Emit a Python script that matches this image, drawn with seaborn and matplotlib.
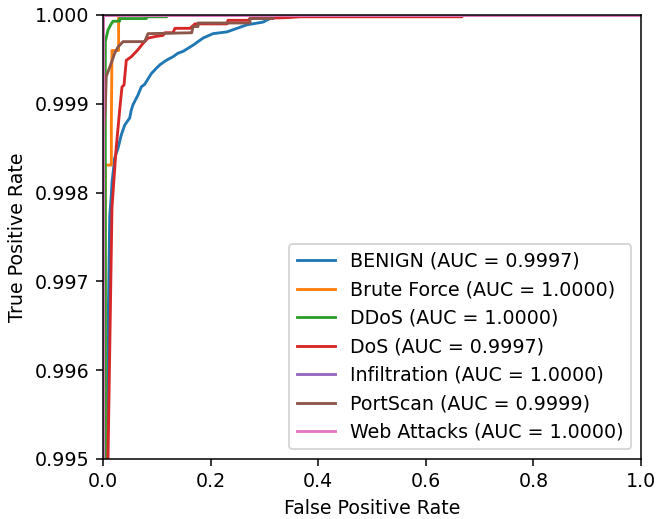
import numpy as np
import pandas as pd
import matplotlib
matplotlib.use("Agg")
import matplotlib.pyplot as plt
from matplotlib.ticker import FormatStrFormatter
import seaborn as sns

# Per-class ROC curves (one-vs-rest)
classes = ["BENIGN", "Brute Force", "DDoS", "DoS", "Infiltration", "PortScan", "Web Attacks"]
auc_values = [0.9997, 1.0000, 1.0000, 0.9997, 1.0000, 0.9999, 1.0000]

fpr_benign = [0.0, 0.0, 0.0061, 0.0125, 0.0154, 0.0167, 0.0217, 0.0279, 0.0340, 0.0403,
              0.0496, 0.0526, 0.0558, 0.0651, 0.0712, 0.0775, 0.0898, 0.0991, 0.1059,
              0.1177, 0.1301, 0.1394, 0.1487, 0.1673, 0.1859, 0.2045, 0.2305, 0.2491,
              0.2677, 0.2974, 0.3104, 0.3290, 0.3532, 0.3792, 1.0]
tpr_benign = [0.0, 0.9924, 0.99501, 0.99773, 0.99797, 0.99811, 0.99839, 0.99850, 0.99865,
              0.99876, 0.99884, 0.99893, 0.99899, 0.99910, 0.99919, 0.99922, 0.99934,
              0.99940, 0.99944, 0.99949, 0.99953, 0.99957, 0.99959, 0.99966, 0.99974,
              0.99979, 0.99981, 0.99985, 0.99989, 0.99992, 0.99996, 0.99998, 0.99999,
              1.0, 1.0]

fpr_brute = [0.0, 0.0043, 0.0155, 0.0155, 0.0167, 0.0290, 0.0290, 1.0]
tpr_brute = [0.0, 0.99831, 0.99831, 0.99875, 0.99960, 0.99960, 1.0, 1.0]

fpr_ddos = [0.0, 0.0043, 0.0043, 0.0093, 0.0143, 0.0186, 0.0310, 0.0310, 0.0805,
            0.0805, 0.1185, 0.1185, 1.0]
tpr_ddos = [0.0, 0.99919, 0.99970, 0.99983, 0.99989, 0.99993, 0.99993, 0.99996,
            0.99996, 0.99998, 0.99998, 1.0, 1.0]

fpr_dos = [0.0, 0.0, 0.0093, 0.0167, 0.0242, 0.0310, 0.0353, 0.0390, 0.0433, 0.0526,
           0.0651, 0.0743, 0.0836, 0.0991, 0.1115, 0.1152, 0.1301, 0.1338, 0.1617,
           0.1710, 0.2305, 0.2323, 0.2695, 0.2732, 0.3420, 0.3662, 0.6673, 0.6673, 1.0]
tpr_dos = [0.0, 0.9914, 0.99500, 0.99783, 0.99848, 0.99893, 0.99919, 0.99921, 0.99949,
           0.99953, 0.99961, 0.99968, 0.99974, 0.99976, 0.99977, 0.99980, 0.99980,
           0.99985, 0.99985, 0.99990, 0.99990, 0.99994, 0.99994, 0.99996, 0.99997,
           0.99998, 0.99998, 1.0, 1.0]

fpr_infiltration = [0.0, 0.0, 1.0]
tpr_infiltration = [0.0, 1.0, 1.0]

fpr_portscan = [0.0, 0.0, 0.0043, 0.0061, 0.0093, 0.0154, 0.0217, 0.0279, 0.0372, 0.0775,
                0.0836, 0.1649, 0.1673, 0.1766, 0.1766, 0.2732, 0.2732, 0.3160, 0.3160,
                0.3420, 1.0]
tpr_portscan = [0.0, 0.9986, 0.99896, 0.99931, 0.99936, 0.99946, 0.99957, 0.99964,
                0.99970, 0.99970, 0.99979, 0.99980, 0.99987, 0.99987, 0.99991, 0.99991,
                0.99996, 0.99996, 0.99999, 1.0, 1.0]

fpr_web = [0.0, 0.0, 1.0]
tpr_web = [0.0, 1.0, 1.0]

fpr_all = [fpr_benign, fpr_brute, fpr_ddos, fpr_dos, fpr_infiltration, fpr_portscan, fpr_web]
tpr_all = [tpr_benign, tpr_brute, tpr_ddos, tpr_dos, tpr_infiltration, tpr_portscan, tpr_web]

frames = []
for name, auc, fpr, tpr in zip(classes, auc_values, fpr_all, tpr_all):
    label = f"{name} (AUC = {auc:.4f})"
    frames.append(pd.DataFrame({"fpr": fpr, "tpr": tpr, "curve": label,
                                "step": np.arange(len(fpr))}))
roc = pd.concat(frames, ignore_index=True)
labels = list(dict.fromkeys(roc["curve"]))

fig = plt.figure(figsize=(657 / 137, 519 / 137), dpi=137)
ax = fig.add_axes([103 / 657, 1 - 459 / 519, (641 - 103) / 657, (459 - 15) / 519])

sns.lineplot(data=roc, x="fpr", y="tpr", hue="curve", hue_order=labels,
             palette=sns.color_palette("tab10", len(labels)),
             estimator=None, sort=False, units="curve", linewidth=1.5, ax=ax)

ax.set_xlim(0.0, 1.0)
ax.set_ylim(0.995, 1.0)
ax.set_xticks([0.0, 0.2, 0.4, 0.6, 0.8, 1.0])
ax.set_yticks([0.995, 0.996, 0.997, 0.998, 0.999, 1.000])
ax.xaxis.set_major_formatter(FormatStrFormatter("%.1f"))
ax.yaxis.set_major_formatter(FormatStrFormatter("%.3f"))
ax.set_xlabel("False Positive Rate")
ax.set_ylabel("True Positive Rate")
sns.move_legend(ax, "lower right", title=None)

fig.savefig("out.png", dpi=137)
